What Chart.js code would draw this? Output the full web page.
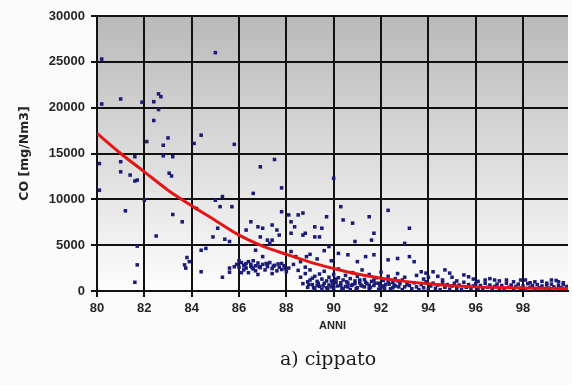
<!DOCTYPE html>
<html>
<head>
<meta charset="utf-8">
<script src="https://cdn.jsdelivr.net/npm/chart.js@4.4.0/dist/chart.umd.min.js"></script>
<style>
  html, body { margin: 0; padding: 0; background: #fbfbfb; }
  #wrap { position: relative; width: 572px; height: 385px; overflow: hidden; }
  #didascalia {
    position: absolute; left: 228px; width: 200px; top: 347px;
    text-align: center; font-family: "DejaVu Serif", serif; font-size: 19px; color: #1a1a1a;
  }
</style>
</head>
<body>
<div id="wrap">
  <canvas id="grafico" width="572" height="385"></canvas>
  <div id="didascalia">a) cippato</div>
</div>
<script>
// curva di tendenza (rossa)
const anniTrend = [80, 81, 82, 83, 84, 85, 86, 87, 88, 89, 90, 91, 92, 93, 94, 95, 96, 97, 98, 99, 99.9];
const coTrend = [17200, 15000, 13000, 11000, 9300, 7700, 6100, 4900, 4000, 3150, 2450, 1850, 1400, 1050, 780, 580, 450, 370, 320, 290, 270];

// misure puntuali [anno, CO]
const misureSparse = [
	[80.2, 25300], [85.0, 26000], [80.2, 20400], [81.0, 20950], [81.9, 20600], [82.6, 21500], [82.7, 21200],
	[82.4, 20650], [82.6, 19800], [82.4, 18600], [83.0, 16700], [82.8, 15900], [82.1, 16300], [84.4, 17000],
	[84.1, 16100], [85.8, 16000], [81.6, 14650], [82.8, 14750], [83.2, 14650], [80.1, 13900], [81.0, 14100],
	[81.0, 13000], [81.4, 12650], [81.6, 12000], [81.7, 12100], [80.1, 11000], [83.05, 12850], [83.15, 12550],
	[82.0, 9900], [81.2, 8750], [83.2, 8350], [83.6, 7550], [82.5, 6000], [81.7, 4900], [81.7, 2850], [81.6, 950],
	[84.2, 9000], [85.0, 9900], [85.3, 10300], [85.2, 9200], [85.7, 9200], [86.3, 6650], [85.1, 6850], [84.9, 5900],
	[85.4, 5650], [85.6, 5400], [84.6, 4650], [84.4, 4450], [83.8, 3650], [83.9, 3200], [83.7, 2850], [83.75, 2500],
	[84.4, 2100], [85.6, 2500], [85.6, 2050], [85.3, 1500]
];
const misureCentro = [
	[86.9, 13550], [87.5, 14350], [87.8, 11250], [86.6, 10650], [90.0, 12300], [87.8, 8650], [88.1, 8300], [88.5, 8300],
	[88.7, 8500], [89.7, 8100], [90.3, 9200], [90.4, 7750], [90.8, 7400], [91.5, 8100], [92.3, 8800], [88.2, 7550],
	[88.35, 7000], [88.2, 6300], [88.7, 6100], [88.8, 6300], [89.2, 7000], [89.5, 6850], [89.2, 5900], [89.4, 5900],
	[86.5, 7550], [86.8, 7000], [87.0, 6850], [87.4, 7200], [87.6, 6650], [87.7, 6100], [87.2, 5550], [87.3, 5200],
	[86.9, 5900], [87.4, 5550], [91.7, 6300], [91.6, 5550], [90.9, 5400], [93.0, 5200], [93.2, 6850],
	[89.8, 4850], [90.2, 4100], [90.6, 3950], [91.0, 3200], [91.35, 3750], [91.7, 3950], [92.3, 3400], [92.7, 3550],
	[86.7, 4450], [87.0, 3750], [87.2, 2850], [87.8, 3000], [88.2, 4300], [88.4, 3750], [88.85, 3750], [89.0, 4000],
	[89.3, 3500], [89.6, 4400], [89.9, 3300], [93.2, 3750], [93.4, 3200]
];
const misureFascia = [
	[85.9, 2900], [86.0, 2600], [86.1, 3100], [86.2, 2750], [86.3, 2500], [86.4, 3200], [86.5, 2900], [86.6, 2400],
	[86.7, 2750], [86.8, 3050], [86.9, 2550], [87.0, 2900], [87.1, 2300], [87.2, 2650], [87.3, 3100], [87.4, 2450],
	[87.5, 2800], [87.6, 2200], [87.7, 2600], [87.8, 2350], [87.9, 2750], [88.0, 2100], [86.1, 2000], [86.8, 1800],
	[87.4, 1900], [88.1, 2500], [88.3, 2900], [88.5, 2250], [88.6, 3200], [88.8, 2600], [86.3, 3000], [86.5, 2700],
	[86.2, 2300], [86.6, 3300], [86.4, 2000], [86.0, 3300], [86.25, 2850], [86.55, 2550], [86.85, 2650], [87.15, 3000],
	[87.45, 2700], [87.65, 2950], [87.95, 2450], [85.8, 2650], [86.7, 2200],
	[88.6, 1500], [88.7, 800], [88.8, 1900], [88.9, 400], [89.0, 1200], [89.0, 2300], [89.1, 700], [89.2, 1600],
	[89.2, 250], [89.3, 1050], [89.4, 1850], [89.4, 500], [89.5, 1300], [89.6, 850], [89.6, 2150], [89.7, 350],
	[89.8, 1500], [89.8, 650], [89.9, 1100], [90.0, 1800], [90.0, 300], [90.1, 950], [90.2, 1450], [90.2, 2400],
	[90.3, 600], [90.4, 1200], [90.4, 200], [90.5, 1700], [90.6, 850], [90.6, 450], [90.7, 1350], [90.8, 2000],
	[90.8, 700], [90.9, 1100], [91.0, 350], [91.0, 1600], [91.1, 900], [91.2, 2300], [91.2, 550], [91.3, 1250],
	[91.4, 800], [91.5, 1800], [91.5, 300], [91.6, 1050], [91.7, 600], [91.8, 1450], [91.9, 850], [92.0, 2050],
	[92.0, 400], [92.1, 1150], [92.2, 700], [92.3, 1600], [92.4, 250], [92.5, 950], [92.6, 1350], [92.6, 550],
	[92.7, 1900], [92.8, 800], [92.9, 1200], [93.0, 450], [93.0, 1500], [93.1, 700],
	[88.9, 1000], [89.1, 1400], [89.3, 600], [89.5, 150], [89.7, 1100], [89.9, 450], [90.1, 1300], [90.3, 900],
	[90.5, 500], [90.7, 150], [90.9, 800], [91.1, 1200], [91.3, 450], [91.5, 650], [91.7, 1200], [91.9, 200],
	[92.1, 550], [92.3, 1000], [92.5, 350], [92.7, 1100], [92.9, 150],
	[88.95, 700], [89.15, 350], [89.35, 850], [89.55, 550], [89.75, 250], [89.95, 800], [90.15, 550], [90.35, 300],
	[90.55, 1000], [90.75, 600], [90.95, 250], [91.15, 650], [91.35, 950], [91.55, 400], [91.75, 850], [91.95, 600],
	[92.15, 300], [92.35, 750], [92.55, 650], [92.75, 450]
];
const misureCoda = [
	[93.5, 1700], [93.7, 2100], [93.8, 1300], [93.9, 1950], [94.0, 1500], [94.2, 2100], [94.4, 1600], [94.6, 1200],
	[94.7, 2300], [94.9, 1950], [95.0, 1500], [95.2, 1100], [95.5, 1750], [95.7, 1550], [95.9, 1300], [96.1, 1050],
	[96.4, 1200], [96.6, 1350], [96.8, 1200], [97.0, 1100], [97.3, 1200], [97.6, 1000], [97.9, 1200], [98.1, 1200],
	[98.3, 900], [98.5, 1000], [98.8, 1050], [99.0, 850], [99.2, 1200], [99.4, 1150], [99.5, 1000], [99.7, 900],
	[93.2, 600], [93.3, 250], [93.4, 900], [93.5, 450], [93.6, 150], [93.7, 700], [93.8, 350], [93.9, 1000],
	[94.0, 200], [94.1, 550], [94.2, 850], [94.3, 300], [94.4, 650], [94.5, 150], [94.6, 900], [94.7, 400],
	[94.8, 700], [94.9, 200], [95.0, 550], [95.1, 850], [95.2, 300], [95.3, 650], [95.4, 150], [95.5, 950],
	[95.6, 400], [95.7, 700], [95.8, 250], [95.9, 550], [96.0, 800], [96.1, 300], [96.2, 600], [96.3, 150],
	[96.4, 850], [96.5, 400], [96.6, 650], [96.7, 200], [96.8, 500], [96.9, 750], [97.0, 300], [97.1, 600],
	[97.2, 150], [97.3, 850], [97.4, 400], [97.5, 650], [97.6, 250], [97.7, 500], [97.8, 750], [97.9, 300],
	[98.0, 550], [98.1, 150], [98.2, 800], [98.3, 400], [98.4, 600], [98.5, 200], [98.6, 700], [98.7, 350],
	[98.8, 550], [98.9, 150], [99.0, 650], [99.1, 300], [99.2, 750], [99.3, 450], [99.4, 200], [99.5, 600],
	[99.6, 350], [99.7, 700], [99.8, 250], [99.85, 500]
];

const misure = misureSparse.concat(misureCentro, misureFascia, misureCoda);

const fontAssi = { family: "'Liberation Sans', Arial, sans-serif", size: 13, weight: 'bold' };
const nero = '#111111';

// sfondo grigio sfumato dell'area del grafico
const sfondoArea = {
	id: 'sfondoArea',
	beforeDraw(chart) {
		const { ctx, chartArea: a } = chart;
		const g = ctx.createLinearGradient(0, a.top, 0, a.bottom);
		g.addColorStop(0, '#b9b9b9');
		g.addColorStop(1, '#fdfdfd');
		ctx.save();
		ctx.fillStyle = g;
		ctx.fillRect(a.left, a.top, a.right - a.left, a.bottom - a.top);
		ctx.restore();
	}
};

const ctx = document.getElementById('grafico').getContext('2d');
new Chart(ctx, {
	type: 'scatter',
	data: {
		datasets: [{
			type: 'line',
			data: anniTrend.map((x, i) => ({ x: x, y: coTrend[i] })),
			borderColor: '#e31515',
			borderWidth: 3,
			pointRadius: 0,
			cubicInterpolationMode: 'monotone',
			order: 0
		}, {
			data: misure.map(p => ({ x: p[0], y: p[1] })),
			pointStyle: 'rect',
			pointRadius: 2.5,
			backgroundColor: '#1b1b78',
			borderColor: '#1b1b78',
			borderWidth: 0,
			order: 1
		}]
	},
	options: {
		responsive: false,
		animation: false,
		devicePixelRatio: 1,
		layout: { padding: { top: 16, right: 0, bottom: 0, left: 0 } },
		plugins: { legend: { display: false }, tooltip: { enabled: false } },
		scales: {
			x: {
				type: 'linear',
				min: 80,
				max: 99.9,
				afterFit: (s) => { s.height = 94; },
				ticks: { stepSize: 2, includeBounds: false, maxRotation: 0, padding: 4, color: '#262626', font: fontAssi },
				grid: { color: nero, lineWidth: 2, tickLength: 6 },
				border: { color: nero, width: 2 },
				title: {
					display: true, text: 'ANNI', color: '#262626',
					font: { family: fontAssi.family, size: 11, weight: 'bold' },
					padding: { top: 0, bottom: 52 }
				}
			},
			y: {
				min: 0,
				max: 30000,
				afterFit: (s) => { s.width = 97; },
				ticks: { stepSize: 5000, padding: 6, color: '#262626', font: fontAssi, callback: (v) => String(v) },
				grid: { color: nero, lineWidth: 2, tickLength: 6 },
				border: { color: nero, width: 2 },
				title: {
					display: true, text: 'CO [mg/Nm3]', color: '#262626',
					font: { family: "'DejaVu Sans', sans-serif", size: 12.5, weight: 'bold' },
					padding: { top: 17, bottom: 0 }
				}
			}
		}
	},
	plugins: [sfondoArea]
});
</script>
</body>
</html>
